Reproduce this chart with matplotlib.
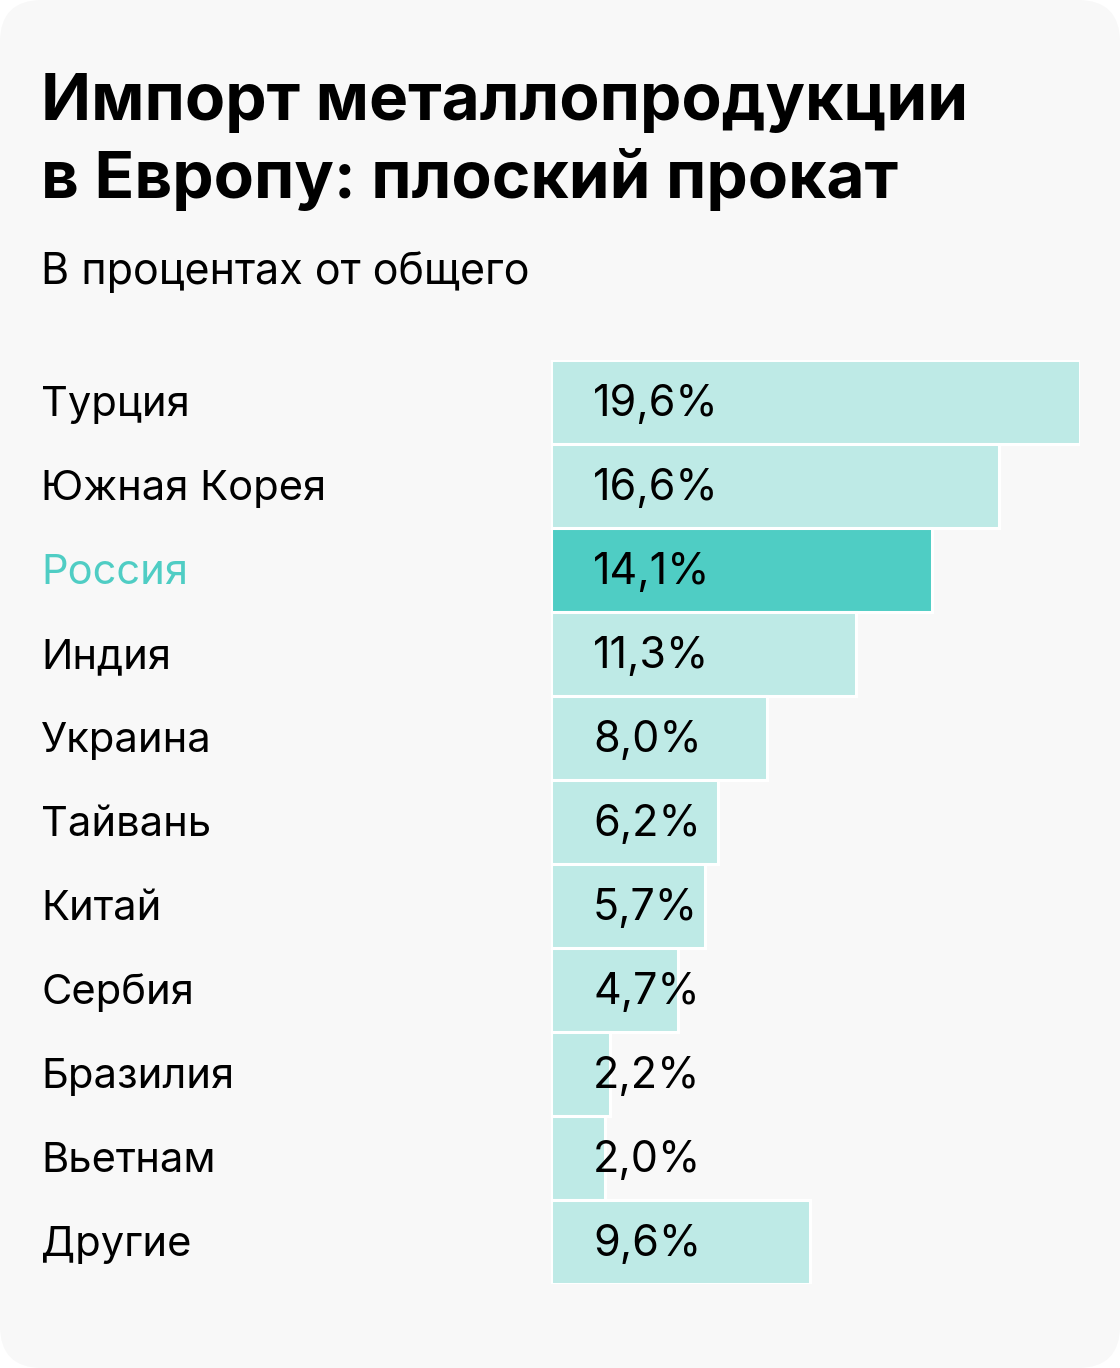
import matplotlib
matplotlib.use("Agg")
import matplotlib.pyplot as plt
from matplotlib.patches import FancyBboxPatch
from matplotlib.transforms import blended_transform_factory

plt.rcParams["font.family"] = ["Inter", "DejaVu Sans"]

W, H = 1120, 1368
BG = "#F8F8F8"
BAR_LIGHT = "#BEEAE6"
BAR_HI = "#4FCDC4"
TEXT = "#000000"

countries = ["Турция", "Южная Корея", "Россия", "Индия", "Украина", "Тайвань",
             "Китай", "Сербия", "Бразилия", "Вьетнам", "Другие"]
shares = [19.6, 16.6, 14.1, 11.3, 8.0, 6.2, 5.7, 4.7, 2.2, 2.0, 9.6]
highlight = "Россия"

title_lines = ["Импорт металлопродукции", "в Европу: плоский прокат"]
subtitle = "В процентах от общего"

fig = plt.figure(figsize=(W / 100, H / 100), dpi=100)
fig.patch.set_facecolor("white")

# rounded card background
bg = fig.add_axes([0, 0, 1, 1], zorder=-5)
bg.set_xlim(0, W)
bg.set_ylim(0, H)
bg.axis("off")
bg.add_patch(FancyBboxPatch((0, 0), W, H,
                            boxstyle="round,pad=0,rounding_size=42",
                            facecolor=BG, edgecolor="none"))

# titles (pixel positions from top)
fig.text(41 / W, 1 - 120 / H, title_lines[0], fontsize=47.3, weight="bold",
         color=TEXT, ha="left", va="baseline")
fig.text(41 / W, 1 - 198 / H, title_lines[1], fontsize=47.3, weight="bold",
         color=TEXT, ha="left", va="baseline")
fig.text(41 / W, 1 - 284 / H, subtitle, fontsize=31, color=TEXT,
         ha="left", va="baseline")

# bar area
top, bottom, left, right = 360, 1284, 551, 1080
ax = fig.add_axes([left / W, 1 - bottom / H, (right - left) / W, (bottom - top) / H])
ax.set_facecolor("none")
n = len(countries)
ypos = list(range(n))
colors = [BAR_HI if c == highlight else BAR_LIGHT for c in countries]
ax.barh(ypos, shares, height=1.0, color=colors, edgecolor="white", linewidth=2.2)
ax.set_xlim(0, max(shares))
ax.set_ylim(n - 0.5, -0.5)
ax.axis("off")

lab_tr = blended_transform_factory(fig.transFigure, ax.transData)
val_x = (593 - left) / (right - left)
val_tr = blended_transform_factory(ax.transAxes, ax.transData)
for i, (c, v) in enumerate(zip(countries, shares)):
    ax.text(41 / W, i + 0.165, c, transform=lab_tr, fontsize=30,
            color=BAR_HI if c == highlight else TEXT, ha="left", va="baseline",
            clip_on=False)
    ax.text(val_x, i + 0.165, f"{v:.1f}%".replace(".", ","), transform=val_tr,
            fontsize=31, color=TEXT, ha="left", va="baseline", clip_on=False)

fig.savefig("out.png", dpi=100, facecolor=fig.get_facecolor())
